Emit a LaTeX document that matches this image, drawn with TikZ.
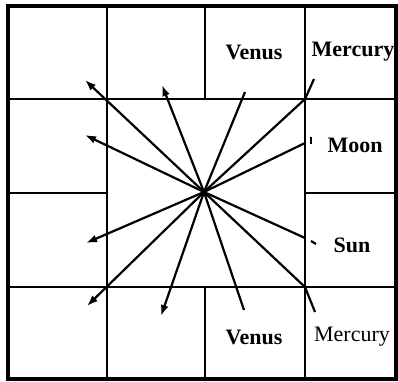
\documentclass[tikz,border=0pt]{standalone}
\usepackage{fontspec}
\setmainfont{Liberation Serif}
\usetikzlibrary{arrows.meta}
\begin{document}
\begin{tikzpicture}[x=1pt,y=-1pt,>={Latex[length=11pt,width=8pt]},
  ray/.style={line width=2.2pt},
  wall/.style={line width=2.7pt},
  lbl/.style={font=\fontsize{22}{24}\selectfont\bfseries}]
\useasboundingbox (0,0) rectangle (398,381);
% frame and cells
\draw[line width=3.4pt] (8,6) rectangle (396,379);
\draw[wall] (8,99) -- (396,99);
\draw[wall] (8,287) -- (396,287);
\draw[wall] (107,6) -- (107,379);
\draw[wall] (305,6) -- (305,379);
\draw[wall] (205,6) -- (205,99);
\draw[wall] (205,287) -- (205,379);
\draw[wall] (8,193) -- (107,193);
\draw[wall] (305,193) -- (396,193);

\node[lbl] (venusT) at (254,52) {Venus};
\node[lbl] (mercT) at (353,52) {Mercury};
\node[lbl] (moon) at (355,145) {Moon};
\node[lbl] (sun) at (352,245) {Sun};
\node[lbl] (venusB) at (254,337) {Venus};
\node[font=\fontsize{22}{24}\selectfont] (mercB) at (352,337) {Mercury};

\coordinate (c) at (204,192);
% arrows to the left
\coordinate (a1) at (85,80);
\coordinate (a2) at (162,85);
\coordinate (a3) at (85,135);
\coordinate (a4) at (86,243);
\coordinate (a5) at (87,306);
\coordinate (a6) at (161,316);
\foreach \i in {1,...,6}
  \draw[->,ray] (c) -- (a\i);

% lines to the right
\coordinate (vT) at (245,92);
\coordinate (mT) at (305,99);
\coordinate (mTe) at (314,79);
\coordinate (mo) at (305,143);
\coordinate (su) at (305,238);
\coordinate (mB) at (305,287);
\coordinate (mBe) at (315,312);
\coordinate (vB) at (244,310);
\draw[ray] (c) -- (vT);
\draw[ray] (c) -- (mT) -- (mTe);
\draw[ray] (c) -- (mo);
\draw[ray] (c) -- (su);
\draw[ray] (c) -- (mB) -- (mBe);
\draw[ray] (c) -- (vB);
\draw[ray] (311,137) -- (311,144);
\draw[ray] (311,241) -- (316,244);
\end{tikzpicture}
\end{document}
